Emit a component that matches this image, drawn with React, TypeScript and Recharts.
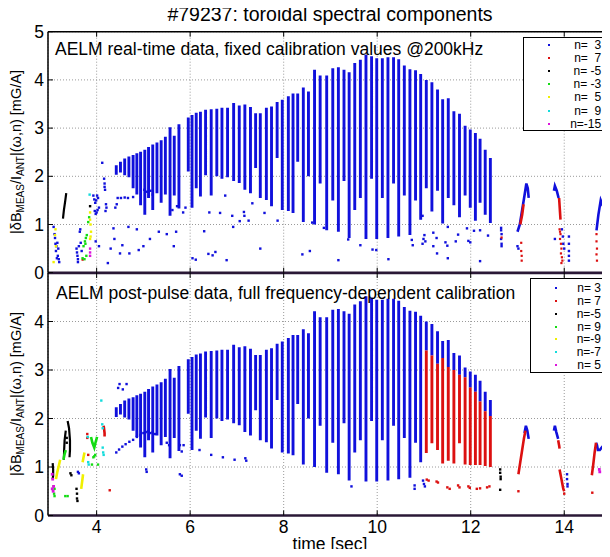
import React from 'react';
import { ComposedChart, Line, Scatter, XAxis, YAxis, CartesianGrid, ReferenceLine, Legend } from 'recharts';

type P = [number, number];

const FONT = '"Liberation Sans", Arial, Helvetica, sans-serif';
const BLUE = '#1010dc';
const RED = '#dc1010';
const BLACK = '#000000';
const GREEN = '#14dc14';
const YELLOW = '#f0f000';
const CYAN = '#14dcdc';
const MAGENTA = '#dc14dc';
const FRAME = '#2a1836';

const xTicks = [4, 6, 8, 10, 12, 14];
const yTicksTop = [0, 1, 2, 3, 4, 5];
const yTicksBottom = [0, 1, 2, 3, 4];
const legendColors = [BLUE, RED, BLACK, GREEN, YELLOW, CYAN, MAGENTA];
const legendTop = ['n=  3', 'n=  7', 'n= -5', 'n= -3', 'n=  5', 'n=  9', 'n=-15'];
const legendBottom = ['n= 3', 'n= 7', 'n=-5', 'n= 9', 'n=-9', 'n=-7', 'n= 5'];

// ELM cycles (n=3): time, column top, column bottom
const cycleT = [4.42, 4.51, 4.60, 4.69, 4.78, 4.86, 4.94, 5.03, 5.11, 5.20, 5.29, 5.38, 5.47, 5.57, 5.66, 5.76,
  5.96, 6.04, 6.13, 6.22, 6.33, 6.45, 6.57, 6.68, 6.80, 6.93, 7.05, 7.17, 7.29, 7.40, 7.50, 7.63, 7.74, 7.86, 7.97,
  8.10, 8.20, 8.30, 8.42, 8.53, 8.66, 8.78, 8.92, 9.05, 9.17, 9.29, 9.40, 9.52, 9.64, 9.76, 9.88, 9.99, 10.11, 10.23, 10.35, 10.46, 10.58, 10.70, 10.82, 10.93,
  11.05, 11.17, 11.29, 11.40, 11.52, 11.64, 11.76, 11.88, 11.99, 12.10, 12.20, 12.31, 12.42];
const cycleTop = [2.23, 2.30, 2.37, 2.41, 2.44, 2.48, 2.51, 2.55, 2.61, 2.66, 2.70, 2.75, 2.82, 3.02, 2.84, 3.08,
  3.22, 3.27, 3.32, 3.34, 3.38, 3.39, 3.40, 3.42, 3.42, 3.52, 3.47, 3.49, 3.44, 3.31, 3.31, 3.42, 3.45, 3.54, 3.59,
  3.66, 3.72, 3.72, 3.84, 3.76, 4.21, 4.09, 4.09, 4.24, 4.26, 4.21, 4.16, 4.35, 4.42, 4.52, 4.49, 4.45, 4.45, 4.47, 4.47, 4.43, 4.30, 4.22, 4.20, 4.12,
  4.00, 3.95, 3.80, 3.60, 3.62, 3.35, 3.30, 3.05, 2.97, 2.90, 2.78, 2.55, 2.38];
const cycleBot = [2.03, 2.08, 2.02, 1.98, 1.75, 1.62, 1.40, 1.20, 1.55, 1.30, 1.65, 1.45, 1.62, 1.18, 1.60, 1.33,
  2.10, 1.35, 1.75, 1.58, 2.02, 1.60, 2.00, 1.95, 1.98, 1.90, 1.86, 1.72, 1.65, 2.17, 1.55, 1.51, 1.38, 2.38, 1.30,
  1.28, 1.24, 2.30, 1.05, 2.00, 1.00, 1.85, 0.88, 1.50, 0.85, 1.90, 0.72, 1.30, 1.55, 0.70, 1.95, 0.70, 1.55, 0.72, 1.85, 0.75, 1.60, 0.78, 1.50, 1.10,
  1.75, 1.27, 1.70, 1.02, 1.55, 1.40, 1.15, 1.60, 1.35, 1.08, 1.45, 1.20, 1.03];
// post-pulse: last 13 cycles split into blue top / red (n=7) lower part
const postSplitFrom = 60;
const postSplit = [3.40, 3.30, 3.13, 3.25, 3.06, 3.00, 2.90, 2.85, 2.64, 2.55, 2.35, 2.15, 2.05];
const postRedBot = [1.29, 1.49, 1.35, 1.07, 1.13, 1.07, 1.49, 1.05, 1.04, 1.04, 1.04, 1.02, 1.00];

// ---- real-time panel ----
const preBlueDots: P[] = [
  [3.08, 0.95], [3.10, 0.80], [3.11, 0.72], [3.12, 0.60], [3.14, 0.55], [3.13, 0.45], [3.16, 0.62], [3.18, 0.50], [3.17, 0.35], [3.19, 0.28], [3.15, 0.30], [3.20, 0.22],
  [3.57, 0.50], [3.58, 0.42], [3.59, 0.35], [3.60, 0.28], [3.60, 0.22], [3.62, 0.55], [3.64, 0.85], [3.65, 0.90], [3.66, 0.62], [3.68, 0.45],
  [3.93, 1.60], [3.95, 1.52], [3.97, 1.45], [3.99, 1.50], [4.01, 1.60], [4.03, 1.55], [3.96, 1.28], [3.98, 1.22], [4.00, 1.25], [4.02, 1.30], [4.05, 1.35],
  [4.16, 1.95], [4.17, 1.85], [4.17, 1.78], [4.18, 1.72], [4.20, 1.42], [4.21, 1.35], [4.19, 1.28], [4.12, 2.28],
  [3.98, 0.65], [4.05, 0.55], [4.24, 0.20], [4.30, 0.50], [4.36, 0.92], [4.38, 0.70], [4.40, 1.35], [4.43, 1.42], [4.45, 1.55], [4.52, 1.55], [4.60, 1.56], [4.67, 1.55], [4.78, 1.57],
  [4.50, 0.40], [4.55, 0.57], [4.68, 0.95], [4.70, 0.40], [4.86, 0.90], [4.90, 0.47], [5.00, 0.55], [5.14, 0.70], [5.33, 0.85], [5.50, 0.80], [5.65, 0.55], [5.70, 0.85], [6.05, 0.30], [6.12, 0.27],
  [5.02, 1.72], [5.08, 1.68], [5.15, 1.70], [5.20, 1.62], [5.62, 1.30], [5.72, 1.38], [5.85, 1.25], [5.90, 1.35],
  [6.30, 0.86], [6.41, 1.25], [6.64, 1.24], [6.75, 1.60], [6.90, 1.18], [6.92, 0.95], [7.06, 1.07], [7.15, 1.26], [7.16, 1.18], [7.25, 1.08], [7.33, 1.44], [7.50, 0.50], [7.59, 1.24], [7.87, 1.08],
  [6.39, 0.39], [6.48, 0.36], [6.54, 0.43], [6.78, 0.26], [8.40, 0.38], [8.56, 0.45], [9.17, 0.26], [9.64, 0.57], [9.90, 0.48], [9.38, 0.69], [8.61, 1.04], [8.86, 0.93],
  [9.98, 0.47], [10.24, 0.28], [10.74, 0.68], [10.76, 0.57], [10.97, 0.60], [10.99, 0.70], [11.01, 0.78], [11.03, 0.65], [11.20, 0.83], [11.20, 0.55], [11.27, 0.72], [11.28, 0.40],
  [11.46, 0.63], [11.50, 0.56], [11.51, 0.95], [11.51, 0.30], [11.68, 0.65], [11.73, 0.79], [11.92, 0.92], [11.95, 0.66], [11.99, 0.63], [12.07, 0.87], [12.20, 0.88], [12.20, 0.24], [12.37, 0.77], [10.97, 1.18],
  [12.65, 0.93], [12.65, 0.88], [12.66, 0.80], [12.65, 0.70], [12.66, 0.60], [12.66, 0.55], [13.00, 0.55], [13.02, 0.50], [13.80, 0.70], [13.95, 0.90], [13.97, 0.75], [13.98, 0.60], [14.00, 0.50],
  [14.10, 0.75], [14.10, 0.60], [14.10, 0.45], [14.10, 0.35], [14.10, 0.25], [14.85, 1.05], [14.85, 0.95],
];
const preBlueSegs: P[][] = [
  [[13.00, 0.85], [13.05, 1.00], [13.10, 1.30], [13.15, 1.60], [13.19, 1.85], [13.22, 1.75], [13.24, 1.55]],
  [[13.78, 1.70], [13.80, 1.80], [13.84, 1.70], [13.88, 1.55]],
  [[14.69, 0.88], [14.73, 1.20], [14.78, 1.50], [14.82, 1.40], [14.85, 1.35], [14.90, 1.40], [14.95, 1.50], [15.00, 1.55]],
];
const preRedSegs: P[][] = [
  [[13.06, 1.00], [13.10, 1.20], [13.13, 1.42]],
  [[13.89, 1.55], [13.90, 1.40], [13.91, 1.25], [13.92, 1.10]],
];
const preRedDots: P[] = [
  [3.70, 0.27], [12.66, 0.73], [13.08, 0.62], [13.08, 0.45], [13.09, 0.35], [13.09, 0.25],
  [13.90, 0.90], [13.91, 0.85], [13.92, 0.80], [13.91, 0.70], [13.93, 0.60], [13.94, 0.50], [13.93, 0.40], [13.95, 0.32], [13.96, 0.25], [13.94, 0.20],
  [14.69, 0.80], [14.69, 0.65], [14.70, 0.50], [14.69, 0.38], [14.70, 0.25],
  [14.86, 0.80], [14.88, 0.70], [14.90, 0.60], [14.87, 0.50], [14.92, 0.45], [14.90, 0.35], [14.95, 0.30], [14.97, 0.60], [14.99, 0.75], [14.93, 0.25], [14.96, 0.50], [14.89, 0.42], [14.98, 0.40], [14.88, 0.30], [14.94, 0.70],
];
const preBlackSegs: P[][] = [[[3.28, 1.12], [3.30, 1.30], [3.33, 1.50], [3.35, 1.65]]];
const preBlackDots: P[] = [[3.86, 1.38]];
const preGreenDots: P[] = [[3.70, 0.30], [3.72, 0.55], [3.75, 0.65], [3.77, 0.72], [3.79, 0.78], [3.82, 1.05], [3.84, 1.15], [3.74, 0.28], [3.78, 0.35], [3.76, 0.60]];
const preYellowDots: P[] = [[3.08, 0.22], [3.11, 0.78], [3.12, 0.90], [3.13, 0.55], [3.86, 1.25], [3.86, 1.10], [3.87, 1.00], [3.88, 0.85], [3.87, 0.75], [3.86, 0.70]];
const preCyanDots: P[] = [[3.85, 1.62]];
const preMagentaDots: P[] = [[3.86, 0.50], [3.86, 0.42], [3.86, 0.35]];

// ---- post-pulse panel ----
const postBlueDots: P[] = [
  [3.60, 0.90], [3.62, 0.87], [4.49, 2.71], [4.64, 2.71], [4.56, 2.60], [4.46, 2.63],
  [4.42, 1.30], [4.48, 1.36], [4.55, 1.42], [4.62, 1.47], [4.70, 1.52], [4.78, 1.56], [4.86, 1.62], [4.94, 1.66], [5.00, 1.70], [5.05, 1.72], [5.10, 1.74], [5.15, 1.70], [5.20, 1.72], [5.25, 1.68],
  [5.06, 0.95], [5.07, 0.90], [5.78, 0.85], [5.82, 0.82], [5.78, 1.45], [5.82, 1.32], [5.86, 1.45], [6.20, 1.35], [6.45, 1.25], [6.70, 1.20], [6.95, 1.15], [7.18, 1.18], [7.20, 1.13],
  [9.45, 0.60], [10.80, 0.62], [10.98, 0.72], [11.00, 0.65], [11.02, 0.60], [10.80, 0.55], [5.50, 1.50], [5.55, 1.45],
  [14.06, 0.85], [14.06, 0.75], [14.07, 0.65], [14.07, 0.60], [14.95, 1.76],
];
const postBlueSegs: P[][] = [
  [[13.15, 1.70], [13.18, 1.85], [13.21, 1.75], [13.24, 1.58]],
  [[13.78, 1.75], [13.80, 1.85], [13.83, 1.72], [13.87, 1.58]],
  [[14.68, 1.50], [14.70, 1.45], [14.72, 1.35], [14.76, 1.35], [14.80, 1.40], [14.85, 1.45], [14.90, 1.55], [14.95, 1.60], [15.00, 1.62]],
];
const postRedSegs: P[][] = [
  [[4.15, 1.85], [4.16, 1.78], [4.17, 1.70], [4.17, 1.63]],
  [[13.02, 0.85], [13.06, 1.10], [13.10, 1.35], [13.14, 1.60], [13.17, 1.75]],
  [[13.87, 1.55], [13.89, 1.45], [13.90, 1.38]],
  [[13.90, 0.95], [13.92, 0.85], [13.94, 0.75], [13.96, 0.65], [13.98, 0.55], [14.00, 0.50]],
  [[14.59, 0.83], [14.62, 1.05], [14.65, 1.30], [14.68, 1.50]],
];
const postRedDots: P[] = [
  [3.80, 1.68], [3.80, 1.60], [3.82, 1.25], [4.28, 0.52], [11.06, 0.74], [11.10, 0.72], [11.27, 0.70], [11.30, 0.68], [11.50, 0.58], [11.55, 0.55], [11.73, 0.62], [11.76, 0.58],
  [11.95, 0.60], [11.98, 0.57], [12.13, 0.55], [12.20, 0.56], [12.35, 0.58], [12.40, 0.60], [13.02, 0.50], [14.00, 0.45], [14.60, 0.47],
];
const postBlackSegs: P[][] = [
  [[3.30, 1.15], [3.305, 1.35], [3.315, 1.55], [3.34, 1.75]],
  [[3.38, 1.95], [3.41, 1.80], [3.43, 1.55], [3.43, 1.35], [3.42, 1.20]],
  [[3.06, 1.08], [3.07, 0.95], [3.07, 0.82], [3.06, 0.75]],
];
const postBlackDots: P[] = [[3.36, 1.60], [3.36, 1.50], [3.44, 0.87], [3.46, 0.83], [3.57, 0.55], [3.58, 0.45], [3.58, 0.35], [3.59, 0.30],
  [12.63, 0.95], [12.63, 0.88], [12.64, 0.80], [12.64, 0.75], [12.63, 0.53]];
const postGreenSegs: P[][] = [
  [[3.88, 1.62], [3.91, 1.50], [3.95, 1.40], [3.98, 1.52], [4.01, 1.62]],
  [[3.29, 1.15], [3.31, 1.25], [3.34, 1.35]],
];
const postGreenDots: P[] = [[3.08, 0.60], [3.10, 0.55], [3.09, 0.45], [3.10, 0.40], [3.33, 0.40], [3.38, 0.40], [3.93, 1.20], [3.95, 1.22], [3.97, 1.25], [3.90, 1.05], [4.03, 1.05]];
const postYellowSegs: P[][] = [
  [[3.13, 0.75], [3.16, 0.90], [3.19, 1.02], [3.22, 1.15]],
  [[3.67, 0.55], [3.69, 0.70], [3.71, 0.85]],
  [[3.70, 1.10], [3.72, 1.20], [3.74, 1.30]],
];
const postCyanDots: P[] = [[3.81, 1.62], [3.82, 1.10], [3.83, 1.05], [4.12, 1.88], [4.13, 1.80], [4.13, 1.40], [4.14, 1.30], [4.15, 1.25], [4.10, 2.37]];
const postMagentaDots: P[] = [[3.05, 0.85], [3.06, 0.75], [3.08, 0.60], [3.05, 0.55], [3.07, 0.50], [14.75, 0.95], [14.76, 0.90]];

// ---- table builders ----
type Row = { t: number; v: number | null };
const toRows = (pts: P[]): Row[] => pts.map(([t, v]) => ({ t, v }));
const segRows = (segs: P[][]): Row[] =>
  segs.flatMap((seg) => [...seg.map(([t, v]) => ({ t, v })), { t: seg[seg.length - 1][0], v: null }]);
const columnRows = (idx: number[], tops: number[], bots: number[]): Row[] =>
  idx.flatMap((i, k) => [{ t: cycleT[i], v: tops[k] }, { t: cycleT[i], v: bots[k] }, { t: cycleT[i], v: null }]);

const allIdx = cycleT.map((_, i) => i);
const preColumns = columnRows(allIdx, cycleTop, cycleBot);
const postBlueIdx = allIdx.filter((i) => i < postSplitFrom);
const postRedIdx = allIdx.filter((i) => i >= postSplitFrom);
const postBlueColumns = [
  ...columnRows(postBlueIdx, postBlueIdx.map((i) => cycleTop[i]), postBlueIdx.map((i) => cycleBot[i])),
  ...columnRows(postRedIdx, postRedIdx.map((i) => cycleTop[i]), postSplit),
];
const postRedColumns = columnRows(postRedIdx, postSplit, postRedBot);

// ---- drawing helpers ----
const PLOT_L = 48;
const PLOT_R = 611;
const dotShape = (color: string, s = 2.4) => (p: any) =>
  p.cx == null || p.cy == null ? <g /> : <rect x={p.cx - s / 2} y={p.cy - s / 2} width={s} height={s} fill={color} />;

const makeXTick = (plotTop: number, labels: boolean) => (props: any) => {
  const { x, y, payload } = props;
  return (
    <g>
      <line x1={x} x2={x} y1={y} y2={y - 5} stroke="#000" strokeWidth={1} />
      <line x1={x} x2={x} y1={plotTop} y2={plotTop + 5} stroke="#000" strokeWidth={1} />
      {labels && (
        <text x={x} y={y + 11.5} textAnchor="middle" dominantBaseline="central" fontSize={17.5} fontFamily={FONT} fill="#000">
          {payload.value}
        </text>
      )}
    </g>
  );
};
const yTick = (props: any) => {
  const { x, y, payload } = props;
  return (
    <g>
      <line x1={PLOT_L} x2={PLOT_L + 5} y1={y} y2={y} stroke="#000" strokeWidth={1} />
      <line x1={PLOT_R} x2={PLOT_R - 5} y1={y} y2={y} stroke="#000" strokeWidth={1} />
      <text x={x} y={y} textAnchor="end" dominantBaseline="central" fontSize={17.5} fontFamily={FONT} fill="#000">
        {payload.value}
      </text>
    </g>
  );
};
const yTitle = (cy: number) => () => (
  <text transform={`translate(16, ${cy}) rotate(-90)`} textAnchor="middle" dominantBaseline="central" fontFamily={FONT} fontSize={14.5} fill="#000">
    |δB<tspan fontSize={10} dy={4}>MEAS</tspan>
    <tspan dy={-4}>/I</tspan>
    <tspan fontSize={10} dy={4}>ANT</tspan>
    <tspan dy={-4}>|(ω,n) [mG/A]</tspan>
  </text>
);

const LegendBox = (o: { labels: string[]; w: number; h: number; rowTop: number; gap: number; markerX: number; textRight: number }) => (
  <div style={{ width: o.w, height: o.h, border: '1.5px solid #000', background: '#fff', boxSizing: 'border-box', position: 'relative', fontFamily: FONT, fontSize: 12, color: '#000' }}>
    {o.labels.map((l, i) => (
      <div key={i} style={{ position: 'absolute', top: o.rowTop + i * o.gap - 7, left: 0, width: '100%', height: 14 }}>
        <span style={{ position: 'absolute', left: o.markerX - 1, top: 6, width: 2, height: 2, background: legendColors[i] }} />
        <span style={{ position: 'absolute', right: o.w - o.textRight, top: 0, lineHeight: '14px', whiteSpace: 'pre' }}>{l}</span>
      </div>
    ))}
  </div>
);

const lineProps = { type: 'linear' as const, dataKey: 'v', dot: false, activeDot: false, isAnimationActive: false, connectNulls: false, legendType: 'none' as const };
const scatterProps = { dataKey: 'v', isAnimationActive: false, legendType: 'none' as const };
const COL_W = 2.9;

const textStyle: React.CSSProperties = { position: 'absolute', fontFamily: FONT, color: '#000', whiteSpace: 'pre' };

export default function App() {
  return (
    <div style={{ position: 'relative', width: 610, height: 557, margin: -8, overflow: 'hidden', background: '#fff' }}>
      {/* top panel */}
      <div style={{ position: 'absolute', left: 0, top: 0 }}>
        <ComposedChart width={612} height={292} margin={{ top: 31.7, right: 1, bottom: 18.3, left: 0 }}>
          <CartesianGrid stroke="#9a9a9a" strokeDasharray="1 2" strokeWidth={1} />
          <Line {...lineProps} data={preColumns} stroke={BLUE} strokeWidth={COL_W} />
          <Scatter {...scatterProps} data={toRows(preBlueDots)} fill={BLUE} shape={dotShape(BLUE)} />
          <Line {...lineProps} data={segRows(preBlueSegs)} stroke={BLUE} strokeWidth={2.6} />
          <Line {...lineProps} data={segRows(preRedSegs)} stroke={RED} strokeWidth={2.6} />
          <Scatter {...scatterProps} data={toRows(preRedDots)} fill={RED} shape={dotShape(RED, 2.2)} />
          <Line {...lineProps} data={segRows(preBlackSegs)} stroke={BLACK} strokeWidth={2.2} />
          <Scatter {...scatterProps} data={toRows(preBlackDots)} fill={BLACK} shape={dotShape(BLACK)} />
          <Scatter {...scatterProps} data={toRows(preGreenDots)} fill={GREEN} shape={dotShape(GREEN)} />
          <Scatter {...scatterProps} data={toRows(preYellowDots)} fill={YELLOW} shape={dotShape(YELLOW)} />
          <Scatter {...scatterProps} data={toRows(preCyanDots)} fill={CYAN} shape={dotShape(CYAN)} />
          <Scatter {...scatterProps} data={toRows(preMagentaDots)} fill={MAGENTA} shape={dotShape(MAGENTA)} />
          <ReferenceLine y={5} stroke="#000" strokeWidth={1.5} />
          <XAxis dataKey="t" type="number" domain={[2.96, 15]} allowDataOverflow ticks={xTicks} interval={0} height={1}
            tickSize={0} tickMargin={0} tickLine={false} axisLine={{ stroke: FRAME, strokeWidth: 2.5 }} tick={makeXTick(31.7, false)} />
          <YAxis dataKey="v" type="number" domain={[0, 5]} allowDataOverflow ticks={yTicksTop} interval={0} width={48}
            tickSize={0} tickMargin={4} tickLine={false} axisLine={{ stroke: '#000', strokeWidth: 1.5 }} tick={yTick} label={yTitle(152)} />
          <Legend layout="vertical" align="center" verticalAlign="middle"
            wrapperStyle={{ left: 522.7, top: 36.7, width: 85.3, height: 94.3 }}
            content={() => <LegendBox labels={legendTop} w={85.3} h={94.3} rowTop={7.6} gap={13.05} markerX={25.8} textRight={79.5} />} />
        </ComposedChart>
      </div>
      {/* bottom panel */}
      <div style={{ position: 'absolute', left: 0, top: 273 }}>
        <ComposedChart width={612} height={284} margin={{ top: 0, right: 1, bottom: 0, left: 0 }}>
          <CartesianGrid stroke="#9a9a9a" strokeDasharray="1 2" strokeWidth={1} />
          <Line {...lineProps} data={postBlueColumns} stroke={BLUE} strokeWidth={COL_W} />
          <Line {...lineProps} data={postRedColumns} stroke={RED} strokeWidth={COL_W} />
          <Scatter {...scatterProps} data={toRows(postBlueDots)} fill={BLUE} shape={dotShape(BLUE)} />
          <Line {...lineProps} data={segRows(postBlueSegs)} stroke={BLUE} strokeWidth={2.6} />
          <Line {...lineProps} data={segRows(postRedSegs)} stroke={RED} strokeWidth={2.6} />
          <Scatter {...scatterProps} data={toRows(postRedDots)} fill={RED} shape={dotShape(RED)} />
          <Line {...lineProps} data={segRows(postBlackSegs)} stroke={BLACK} strokeWidth={2.2} />
          <Scatter {...scatterProps} data={toRows(postBlackDots)} fill={BLACK} shape={dotShape(BLACK)} />
          <Line {...lineProps} data={segRows(postGreenSegs)} stroke={GREEN} strokeWidth={2.6} />
          <Scatter {...scatterProps} data={toRows(postGreenDots)} fill={GREEN} shape={dotShape(GREEN)} />
          <Line {...lineProps} data={segRows(postYellowSegs)} stroke={YELLOW} strokeWidth={2.6} />
          <Scatter {...scatterProps} data={toRows(postCyanDots)} fill={CYAN} shape={dotShape(CYAN)} />
          <Scatter {...scatterProps} data={toRows(postMagentaDots)} fill={MAGENTA} shape={dotShape(MAGENTA, 2.8)} />
          <ReferenceLine y={5} stroke={FRAME} strokeWidth={2.5} />
          <XAxis dataKey="t" type="number" domain={[2.96, 15]} allowDataOverflow ticks={xTicks} interval={0} height={41.5}
            tickSize={0} tickMargin={0} tickLine={false} axisLine={{ stroke: FRAME, strokeWidth: 2.5 }} tick={makeXTick(0, true)}
            label={() => (
              <text x={330} y={271} textAnchor="middle" dominantBaseline="central" fontSize={17.5} fontFamily={FONT} fill="#000">time [sec]</text>
            )} />
          <YAxis dataKey="v" type="number" domain={[0, 5]} allowDataOverflow ticks={yTicksBottom} interval={0} width={48}
            tickSize={0} tickMargin={4} tickLine={false} axisLine={{ stroke: '#000', strokeWidth: 1.5 }} tick={yTick} label={yTitle(121)} />
          <Legend layout="vertical" align="center" verticalAlign="middle"
            wrapperStyle={{ left: 530, top: 5.3, width: 78, height: 95 }}
            content={() => <LegendBox labels={legendBottom} w={78} h={95} rowTop={9.2} gap={12.67} markerX={25.2} textRight={72} />} />
        </ComposedChart>
      </div>
      {/* texts */}
      <div style={{ ...textStyle, left: 130, width: 400, top: 2, textAlign: 'center', fontSize: 19.5, lineHeight: '24px' }}>
        #79237: toroidal spectral components
      </div>
      <div style={{ ...textStyle, left: 55, top: 39, fontSize: 17.5, lineHeight: '20px' }}>
        AELM real-time data, fixed calibration values @200kHz
      </div>
      <div style={{ ...textStyle, left: 56, top: 282.5, fontSize: 17.5, lineHeight: '20px' }}>
        AELM post-pulse data, full frequency-dependent calibration
      </div>
    </div>
  );
}
